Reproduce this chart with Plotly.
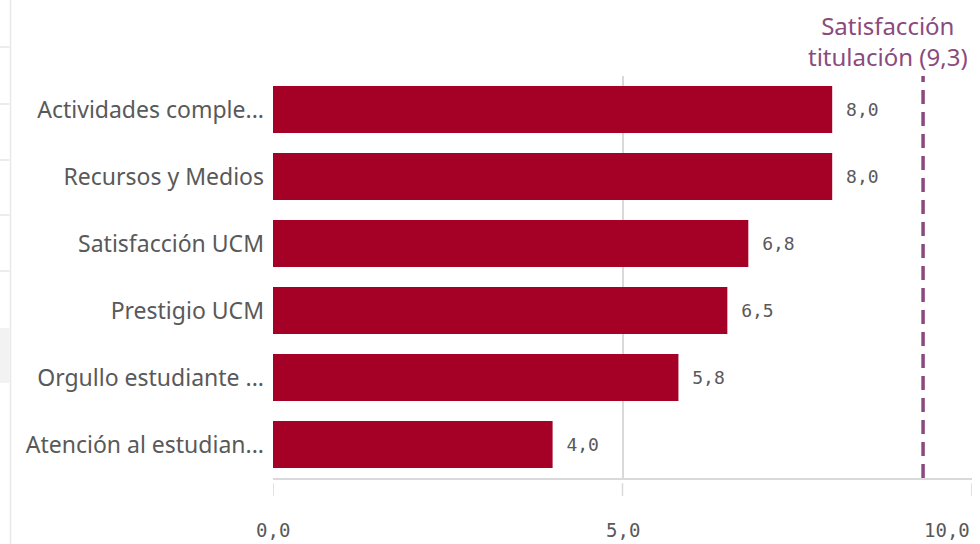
import plotly.graph_objects as go

categories = [
    "Actividades comple...",
    "Recursos y Medios",
    "Satisfacción UCM",
    "Prestigio UCM",
    "Orgullo estudiante ...",
    "Atención al estudian...",
]
values = [8.0, 8.0, 6.8, 6.5, 5.8, 4.0]
target_value = 9.3
target_label = "Satisfacción<br>titulación ({})".format(f"{target_value:.1f}".replace(".", ","))
tick_values = [0, 5, 10]
tick_labels = ["0,0", "5,0", "10,0"]

BAR = "#A50026"
PURPLE = "#8B4A7E"
TXT = "#595959"
GRID = "#d9d9d9"
MONO = "DejaVu Sans Mono"
SANS = "Noto Sans"

fig = go.Figure()
fig.add_trace(go.Bar(
    x=values, y=categories, orientation="h",
    marker=dict(color=BAR, line=dict(width=0)),
    texttemplate=" %{x:.1f}", textposition="outside",
    textfont=dict(family=MONO, size=18, color=TXT),
    cliponaxis=False, hoverinfo="skip",
))

shapes = []
# target dashed line
shapes.append(dict(type="line", xref="x", yref="paper", x0=target_value, x1=target_value,
                   y0=0, y1=1, line=dict(color=PURPLE, width=3.5, dash="14px,8px")))
# ticks below axis (detached)
for v in tick_values:
    shapes.append(dict(type="line", xref="x", yref="paper", x0=v, x1=v, y0=-0.013, y1=-0.045,
                       line=dict(color=GRID, width=1.5)))
# background UI remnants on the left
shapes.append(dict(type="line", xref="paper", yref="paper", x0=-0.3755, x1=-0.3755, y0=-0.2, y1=1.2,
                   line=dict(color="#e8e8e8", width=1.5), layer="below"))
for ypx in [47, 104, 160, 215, 271]:
    yp = (478 - ypx) / 402
    shapes.append(dict(type="line", xref="paper", yref="paper", x0=-0.3906, x1=-0.377, y0=yp, y1=yp,
                       line=dict(color="#e6e6e6", width=1.5), layer="below"))
shapes.append(dict(type="rect", xref="paper", yref="paper", x0=-0.3906, x1=-0.377,
                   y0=(478 - 383) / 402, y1=(478 - 328) / 402,
                   fillcolor="#f2f2f2", line=dict(width=0), layer="below"))

annotations = [dict(text=target_label, xref="paper", yref="paper", x=1.0, y=1.0,
                    xanchor="right", yanchor="bottom", align="center", showarrow=False,
                    yshift=1, xshift=-2,
                    font=dict(family=SANS, size=24, color=PURPLE))]
for v, lab in zip(tick_values, tick_labels):
    annotations.append(dict(text=lab, xref="x", yref="paper", x=v, y=-0.13,
                            xanchor="right" if v == max(tick_values) else "center",
                            yanchor="middle", showarrow=False,
                            font=dict(family=MONO, size=19, color=TXT)))

fig.update_layout(
    width=980, height=544,
    margin=dict(l=273, r=8, t=76, b=66),
    paper_bgcolor="white", plot_bgcolor="white",
    separators=",.",
    bargap=0.3,
    showlegend=False,
    shapes=shapes,
    annotations=annotations,
    xaxis=dict(range=[0, 10], tickvals=tick_values, showticklabels=False,
               showgrid=True, gridcolor=GRID, gridwidth=1.5, zeroline=False,
               showline=True, linecolor=GRID, linewidth=1.5, ticks="", fixedrange=True),
    yaxis=dict(autorange="reversed", ticks="", showgrid=False, zeroline=False, showline=False,
               ticklabelstandoff=8, automargin=False,
               tickfont=dict(family=SANS, size=23, color=TXT), fixedrange=True),
)

fig.write_html("out.html", config={"displayModeBar": False},
               post_script="document.body.style.margin='0';document.body.style.overflow='hidden';")
